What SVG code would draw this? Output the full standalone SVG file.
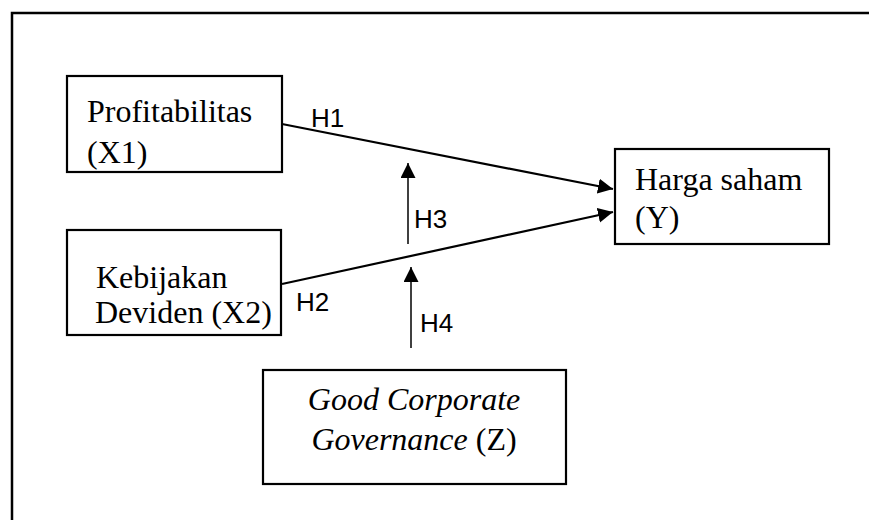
<svg xmlns="http://www.w3.org/2000/svg" width="869" height="520" viewBox="0 0 869 520">
  <defs>
    <style>
      .box { fill: #fff; stroke: #000; stroke-width: 2.2; }
      .tnr { font-family: "Liberation Serif", "Times New Roman", serif; font-size: 32px; fill: #000; }
      .lbl { font-family: "Liberation Sans", Arial, sans-serif; font-size: 26px; fill: #000; }
      .conn { stroke: #000; fill: none; }
    </style>
    <marker id="ah" markerUnits="userSpaceOnUse" markerWidth="16" markerHeight="16" refX="15" refY="7.5" orient="auto">
      <path d="M0,0 L15,7.5 L0,15 z" fill="#000"/>
    </marker>
  </defs>
  <rect width="869" height="520" fill="#fff"/>
  <path d="M12,520 L12,13 L869,13" fill="none" stroke="#000" stroke-width="2.5"/>

  <g id="profitabilitas">
    <rect class="box" x="67" y="76" width="215" height="96"/>
    <text class="tnr" x="87" y="122">Profitabilitas</text>
    <text class="tnr" x="87" y="163">(X1)</text>
  </g>
  <g id="kebijakan">
    <rect class="box" x="67" y="230" width="214" height="105"/>
    <text class="tnr" x="96" y="288">Kebijakan</text>
    <text class="tnr" x="95" y="323">Deviden (X2)</text>
  </g>
  <g id="harga">
    <rect class="box" x="615" y="149" width="214" height="95"/>
    <text class="tnr" x="635" y="190">Harga saham</text>
    <text class="tnr" x="635" y="228">(Y)</text>
  </g>
  <g id="gcg">
    <rect class="box" x="263" y="370" width="303" height="114"/>
    <text class="tnr" x="414" y="410" text-anchor="middle" font-style="italic">Good Corporate</text>
    <text class="tnr" x="414" y="450" text-anchor="middle"><tspan font-style="italic">Governance</tspan> (Z)</text>
  </g>

  <g id="connectors">
    <line class="conn" x1="282" y1="124" x2="613" y2="189" stroke-width="2.2" marker-end="url(#ah)"/>
    <line class="conn" x1="282" y1="284" x2="613" y2="212" stroke-width="2.2" marker-end="url(#ah)"/>
    <line class="conn" x1="408" y1="244" x2="408" y2="163" stroke-width="1.5" marker-end="url(#ah)"/>
    <line class="conn" x1="411" y1="348" x2="411" y2="267" stroke-width="1.5" marker-end="url(#ah)"/>
    <text class="lbl" x="311" y="127">H1</text>
    <text class="lbl" x="296" y="311">H2</text>
    <text class="lbl" x="414" y="228">H3</text>
    <text class="lbl" x="420" y="332">H4</text>
  </g>
</svg>
